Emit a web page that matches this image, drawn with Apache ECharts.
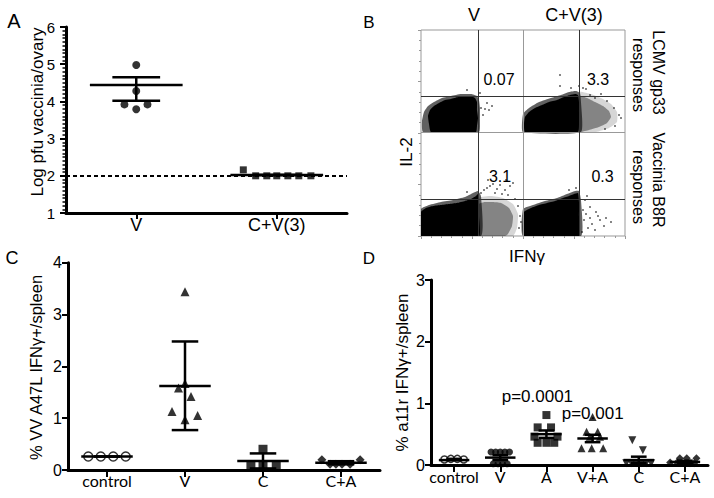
<!DOCTYPE html>
<html><head><meta charset="utf-8">
<script src="https://cdn.jsdelivr.net/npm/echarts@6/dist/echarts.min.js"></script>
<style>html,body{margin:0;padding:0;background:#fff}#c{width:714px;height:498px}</style>
</head><body><div id="c"></div>
<script>
// ---------- Panel A ----------
const aCategories = ['V', 'C+V(3)'];
const aV = [4.98, 4.28, 3.92, 3.92, 3.79];
const aVOffsets = [0, 0, -0.084, 0.08, 0];
const aCV = [2.16, 2.0, 2.0, 2.0, 2.0, 2.0, 2.0];
const aCVOffsets = [-0.238, -0.15, -0.071, 0, 0.079, 0.157, 0.243];
const aMean = [4.44, 2.02];
const aSemLow = [4.02, 2.02];
const aSemHigh = [4.65, 2.02];
const aDetectionLimit = 2;

// ---------- Panel B (flow plots, arbitrary fluorescence units) ----------
const bGatesX = [57.3, 158.3];
const bGatesY = [36.7, 139.3];
const bDividersX = [102.3];
const bDividersY = [103.3];
const bDenseClouds = [
  [[10,104],[8,112],[7,120],[9,126],[13,130],[18,133],[24,136],[30,137],[37,139],[44,140],[50,140],[54,138],[56,134],[56,126],[57,118],[56,110],[55,104]],
  [[104,104],[103,112],[104,119],[108,124],[114,128],[121,131],[128,134],[136,136],[143,139],[149,141],[154,142],[157,141],[158,134],[158,124],[158,114],[157,104]],
  [[0,0],[0,24],[5,28],[12,30],[20,31],[28,32],[36,33],[44,35],[50,37],[55,40],[57,42],[58,32],[58,20],[58,0]],
  [[103,0],[103,24],[110,28],[118,31],[126,33],[134,35],[142,38],[148,40],[153,42],[157,43],[158,34],[158,20],[158,0]]
];
const bHaloClouds = [
  [[2,104],[1,115],[3,124],[7,130],[13,134],[21,138],[30,140],[40,142],[50,142],[56,140],[58,136],[59,128],[59,116],[58,104]],
  [[102,104],[102,122],[108,128],[118,134],[130,138],[140,141],[148,144],[155,145],[159,143],[160,134],[160,104]],
  [[0,0],[0,27],[8,31],[20,34],[32,36],[44,39],[52,43],[57,45],[60,40],[60,0]],
  [[102,0],[102,27],[112,31],[124,35],[136,38],[146,42],[154,45],[158,45],[160,36],[160,0]]
];
const bSparseClouds = [
  [[158,104],[158,140],[166,138],[174,134],[182,130],[188,125],[190,119],[186,113],[178,109],[168,106],[160,104]],
  [[58,0],[58,32],[64,34],[72,34],[80,33],[88,28],[92,20],[91,10],[87,2],[84,0]]
];
const bFaintClouds = [
  [[158,104],[158,144],[170,142],[180,138],[190,132],[196,124],[196,114],[188,108],[175,104]],
  [[58,0],[58,38],[70,40],[82,38],[92,32],[97,22],[96,8],[92,0]]
];
const bDotsVLcmv = [[60,128],[64,127],[68,126],[71,130],[62,121],[59,143],[46,146],[66,133]];
const bDotsCVLcmv = [[169,141],[174,138],[186,135],[193,128],[198,121],[194,110],[184,107],[162,148],[150,148],[139,161],[139,150],[200,118],[165,147],[180,142],[158,150]];
const bDotsVB8r = [[60,43],[63,46],[66,48],[69,50],[72,52],[76,47],[79,51],[84,46],[89,50],[92,53],[74,43],[81,42],[87,41],[97,30],[99,20],[98,8],[46,44],[67,56],[85,56],[100,14],[94,37]];
const bDotsCVB8r = [[162,26],[165,22],[169,18],[163,16],[171,12],[175,24],[179,16],[167,8],[174,6],[183,10],[161,4],[177,20],[185,18],[169,29],[155,48],[148,46],[164,36],[190,14],[166,40]];
const bQuadrantValues = ['0.07', '3.3', '3.1', '0.3'];

// ---------- Panel C ----------
const cCategories = ['control', 'V', 'C', 'C+A'];
const cControl = [0.26, 0.26, 0.26, 0.26];
const cControlOffsets = [-0.24, -0.08, 0.08, 0.24];
const cV = [3.44, 1.67, 1.58, 1.42, 1.13, 1.05, 0.97];
const cVOffsets = [0, 0, -0.083, 0.077, -0.167, 0.162, 0];
const cC = [0.4, 0.1, 0.1, 0.1];
const cCOffsets = [0, -0.155, 0, 0.17];
const cCA = [0.2, 0.11, 0.11, 0.11, 0.11, 0.2];
const cCAOffsets = [-0.245, -0.14, -0.065, 0.013, 0.116, 0.245];
const cMean = [0.26, 1.62, 0.175, 0.14];
const cSemLow = [0.26, 0.77, 0.03, 0.11];
const cSemHigh = [0.26, 2.48, 0.32, 0.17];

// ---------- Panel D ----------
const dCategories = ['control', 'V', 'A', 'V+A', 'C', 'C+A'];
const dControl = [0.09, 0.1, 0.1, 0.09];
const dControlOffsets = [-0.21, -0.07, 0.07, 0.21];
const dV = [0.21, 0.21, 0.21, 0.21, 0.21, 0.02, 0.02, 0.02, 0.02];
const dVOffsets = [-0.2, -0.1, 0, 0.1, 0.2, -0.15, -0.05, 0.05, 0.15];
const dA = [0.81, 0.61, 0.61, 0.46, 0.46, 0.36, 0.36, 0.36];
const dAOffsets = [0, -0.19, 0.1, -0.26, 0.24, -0.19, 0, 0.17];
const dVA = [0.78, 0.54, 0.54, 0.46, 0.46, 0.27, 0.27, 0.27];
const dVAOffsets = [0, -0.13, 0.11, -0.06, 0.16, -0.24, -0.02, 0.23];
const dC = [0.4, 0.24, 0.03, 0.03, 0.03, 0.03, 0.03, 0.03];
const dCOffsets = [-0.14, 0.09, -0.27, -0.16, -0.05, 0.05, 0.16, 0.27];
const dCA = [0.11, 0.11, 0.11, 0.04, 0.04, 0.03, 0.03];
const dCAOffsets = [-0.11, 0.04, 0.25, -0.32, -0.17, 0.11, 0.2];
const dMean = [0.08, 0.12, 0.5, 0.43, 0.08, 0.05];
const dSemLow = [0.08, 0.08, 0.44, 0.37, 0.03, 0.03];
const dSemHigh = [0.1, 0.16, 0.56, 0.49, 0.135, 0.07];
const dPValues = ['p=0.0001', 'p=0.001'];

// ---------- helpers ----------
const ARIAL = "'Liberation Sans', Arial, sans-serif";
const CALIBRI = "Lato, 'Open Sans', sans-serif";
function pts(values, offsets, cat) { return values.map((v, i) => [cat + offsets[i], v]); }
function statsData(mean, lo, hi) { return mean.map((m, i) => [i + 1, m, lo[i], hi[i]]); }
function meanRender(halfW, capW) {
  return function (params, api) {
    const x = api.value(0), m = api.value(1), lo = api.value(2), hi = api.value(3);
    const style = { stroke: '#000', lineWidth: 2.5 };
    const seg = (a, b) => ({ type: 'line', shape: { x1: a[0], y1: a[1], x2: b[0], y2: b[1] }, style });
    return { type: 'group', children: [
      seg(api.coord([x - halfW, m]), api.coord([x + halfW, m])),
      seg(api.coord([x, lo]), api.coord([x, hi])),
      seg(api.coord([x - capW, lo]), api.coord([x + capW, lo])),
      seg(api.coord([x - capW, hi]), api.coord([x + capW, hi]))
    ] };
  };
}
function scatter(idx, data, symbol, size, extra) {
  return Object.assign({ type: 'scatter', xAxisIndex: idx, yAxisIndex: idx, data, symbol, symbolSize: size,
    itemStyle: { color: '#000' }, z: 3, silent: true }, extra || {});
}
function stats(idx, data) {
  return { type: 'custom', xAxisIndex: idx, yAxisIndex: idx, data, renderItem: meanRender(0.33, 0.17),
    encode: { x: 0, y: 1 }, z: 4, silent: true };
}
function polySeries(polys, fill) {
  return { type: 'custom', xAxisIndex: 1, yAxisIndex: 1, silent: true, z: 2, clip: true,
    data: polys.map(p => p[0]),
    renderItem: function (params, api) {
      const poly = polys[params.dataIndex];
      return { type: 'polygon', shape: { points: poly.map(p => api.coord(p)), smooth: 0.15 }, style: { fill: fill } };
    } };
}
function catXAxis(grid, n, cats, fontFamily, fontSize, margin, tickLen) {
  const vals = cats.map((c, i) => i + 1);
  return { type: 'value', gridIndex: grid, min: 0.5, max: n + 0.5, splitLine: { show: false },
    axisLine: { show: true, onZero: false, lineStyle: { color: '#000', width: 3 } },
    axisTick: { show: true, customValues: vals, length: tickLen, lineStyle: { color: '#000', width: 2 } },
    axisLabel: { show: true, customValues: vals, formatter: v => cats[Math.round(v) - 1],
      color: '#000', fontFamily, fontSize, margin } };
}
function numYAxis(grid, min, max, margin, fontSize, minor) {
  return { type: 'value', gridIndex: grid, min, max, interval: 1, splitLine: { show: false },
    axisLine: { show: true, onZero: false, lineStyle: { color: '#000', width: 3 } },
    axisTick: { show: true, length: 6, lineStyle: { color: '#000', width: 2 } },
    minorTick: minor ? { show: true, splitNumber: 10, length: 3.5, lineStyle: { color: '#000', width: 1.5 } } : { show: false },
    axisLabel: { color: '#000', fontFamily: ARIAL, fontSize, margin } };
}
function txt(text, x, y, size, rot, align, font) {
  return { type: 'text', x, y, rotation: rot || 0, silent: true,
    style: { text, fill: '#000', fontSize: size, fontFamily: font || ARIAL,
      align: align || 'center', verticalAlign: 'middle', textAlign: align || 'center', textVerticalAlign: 'middle' } };
}
const noLabel = { show: false };

const chart = echarts.init(document.getElementById('c'), null, { renderer: 'svg' });
const option = {
  animation: false,
  backgroundColor: '#fff',
  grid: [
    { left: 66, top: 27, width: 281, height: 186 },
    { left: 421, top: 30, width: 204, height: 206, show: true, borderColor: '#999', borderWidth: 1 },
    { left: 68, top: 262.7, width: 312, height: 207.3 },
    { left: 431, top: 280, width: 277, height: 185 }
  ],
  xAxis: [
    catXAxis(0, 2, aCategories, ARIAL, 18, 3, 6),
    { type: 'value', gridIndex: 1, min: 0, max: 204, interval: 51, splitLine: { show: false },
      axisLine: { show: false }, axisLabel: noLabel,
      axisTick: { show: true, length: 3, lineStyle: { color: '#999' } },
      minorTick: { show: true, splitNumber: 5, length: 2, lineStyle: { color: '#999' } } },
    catXAxis(2, 4, cCategories, CALIBRI, 16, 2, 7),
    catXAxis(3, 6, dCategories, CALIBRI, 16, 3, 7)
  ],
  yAxis: [
    numYAxis(0, 1, 6, 11, 15, true),
    { type: 'value', gridIndex: 1, min: 0, max: 206, interval: 51.5, splitLine: { show: false },
      axisLine: { show: false }, axisLabel: noLabel,
      axisTick: { show: true, length: 3, lineStyle: { color: '#999' } },
      minorTick: { show: true, splitNumber: 5, length: 2, lineStyle: { color: '#999' } } },
    numYAxis(2, 0, 4, 6, 16, false),
    numYAxis(3, 0, 3, 6, 16, false)
  ],
  series: [
    // A
    scatter(0, pts(aV, aVOffsets, 1), 'circle', 8, {
      markLine: { silent: true, symbol: 'none', label: noLabel,
        lineStyle: { type: [4, 3], color: '#000', width: 1.8 }, data: [{ yAxis: aDetectionLimit }] } }),
    scatter(0, pts(aCV, aCVOffsets, 2), 'rect', 7),
    stats(0, statsData(aMean, aSemLow, aSemHigh)),
    // B
    polySeries(bFaintClouds, 'rgba(0,0,0,0.16)'),
    polySeries(bSparseClouds, 'rgba(0,0,0,0.38)'),
    polySeries(bHaloClouds, 'rgba(0,0,0,0.62)'),
    polySeries(bDenseClouds, '#000'),
    scatter(1, bDotsVLcmv, 'rect', 1.6, { markLine: { silent: true, symbol: 'none', label: noLabel,
      lineStyle: { type: 'solid', color: '#999', width: 1 },
      data: bDividersX.map(v => ({ xAxis: v })).concat(bDividersY.map(v => ({ yAxis: v }))) } }),
    scatter(1, bDotsCVLcmv, 'rect', 1.6, { markLine: { silent: true, symbol: 'none', label: noLabel,
      lineStyle: { type: 'solid', color: '#333', width: 1 },
      data: bGatesX.map(v => ({ xAxis: v })).concat(bGatesY.map(v => ({ yAxis: v }))) } }),
    scatter(1, bDotsVB8r, 'rect', 1.6),
    scatter(1, bDotsCVB8r, 'rect', 1.6),
    // C
    scatter(2, pts(cControl, cControlOffsets, 1), 'circle', 9, { itemStyle: { color: '#fff', borderColor: '#000', borderWidth: 1.5 } }),
    scatter(2, pts(cV, cVOffsets, 2), 'triangle', 9),
    scatter(2, pts(cC, cCOffsets, 3), 'rect', 9),
    scatter(2, pts(cCA, cCAOffsets, 4), 'diamond', 9),
    stats(2, statsData(cMean, cSemLow, cSemHigh)),
    // D
    scatter(3, pts(dControl, dControlOffsets, 1), 'circle', 7, { itemStyle: { color: '#fff', borderColor: '#000', borderWidth: 1.5 } }),
    scatter(3, pts(dV, dVOffsets, 2), 'circle', 7),
    scatter(3, pts(dA, dAOffsets, 3), 'rect', 8),
    scatter(3, pts(dVA, dVAOffsets, 4), 'triangle', 8),
    scatter(3, pts(dC, dCOffsets, 5), 'triangle', 8, { symbolRotate: 180 }),
    scatter(3, pts(dCA, dCAOffsets, 6), 'diamond', 8),
    stats(3, statsData(dMean, dSemLow, dSemHigh))
  ],
  graphic: [
    txt('A', 14, 20.5, 20),
    txt('B', 369, 22.5, 17),
    txt('C', 12, 258, 18),
    txt('D', 369, 258, 17),
    txt('Log pfu vaccinia/ovary', 37, 112, 17, Math.PI / 2),
    txt('% VV A47L IFNγ+/spleen', 36, 367.5, 16.5, Math.PI / 2),
    txt('% a11r IFNγ+/spleen', 402, 372.5, 17, Math.PI / 2),
    txt('V', 474, 15, 18),
    txt('C+V(3)', 574, 15, 18),
    txt('IL-2', 406, 152, 17, Math.PI / 2),
    txt('IFNγ', 527, 256, 17),
    txt('LCMV gp33', 658.5, 72.5, 16, -Math.PI / 2),
    txt('responses', 638.5, 75, 16, -Math.PI / 2),
    txt('Vaccinia B8R', 658.5, 180, 16, -Math.PI / 2),
    txt('responses', 638.5, 187, 16, -Math.PI / 2),
    txt(bQuadrantValues[0], 499, 79, 16),
    txt(bQuadrantValues[1], 598, 79, 16),
    txt(bQuadrantValues[2], 500, 176.7, 16),
    txt(bQuadrantValues[3], 602.5, 176.7, 16),
    txt(dPValues[0], 501.7, 396.7, 17, 0, 'left'),
    txt(dPValues[1], 561.7, 413.3, 17, 0, 'left')
  ]
};
chart.setOption(option);
</script>
</body></html>
